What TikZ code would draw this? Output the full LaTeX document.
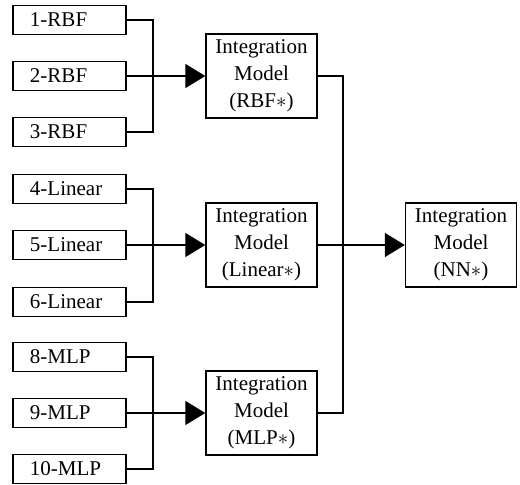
\documentclass[tikz,border=0pt]{standalone}
\usepackage{fontspec}
\setmainfont{Liberation Serif}
\usetikzlibrary{arrows.meta}
\tikzset{
  member/.style={draw, line width=1.4pt, minimum width=113pt, minimum height=29pt,
    text width=79pt, inner xsep=17pt, align=left, inner ysep=0pt},
  combiner/.style={draw, line width=1.4pt, minimum width=111pt, minimum height=84pt,
    align=center, inner sep=0pt},
  wire/.style={line width=1.6pt},
  feed/.style={line width=1.6pt, -{Triangle[length=20pt,width=24pt]}}
}
\begin{document}
\begin{tikzpicture}[x=1pt,y=-1pt,font=\fontsize{21}{27}\selectfont]
			\useasboundingbox (0,0) rectangle (520,485);
			%first level models
			\node[member] (r1) at (69.5,20) {1-RBF};
			\node[member] (r2) at (69.5,76) {2-RBF};
			\node[member] (r3) at (69.5,132) {3-RBF};
			\node[member] (l4) at (69.5,189) {4-Linear};
			\node[member] (l5) at (69.5,245) {5-Linear};
			\node[member] (l6) at (69.5,302) {6-Linear};
			\node[member] (m8) at (69.5,357) {8-MLP};
			\node[member] (m9) at (69.5,413) {9-MLP};
			\node[member] (m10) at (69.5,469) {10-MLP};
			
			%integration models
			\node[combiner] (irbf) at (261.5,76) {Integration\\Model\\(RBF$\ast$)};
			\node[combiner] (ilin) at (261.5,245) {Integration\\Model\\(Linear$\ast$)};
			\node[combiner] (imlp) at (261.5,413) {Integration\\Model\\(MLP$\ast$)};
			\node[combiner] (inn) at (461,245) {Integration\\Model\\(NN$\ast$)};
			
			%buses
			\coordinate (b1) at (153,76);
			\coordinate (b2) at (153,245);
			\coordinate (b3) at (153,413);
			\coordinate (b4) at (343,245);
			\draw[wire] (r1.east) -| (b1) |- (r3.east);
			\draw[wire] (l4.east) -| (b2) |- (l6.east);
			\draw[wire] (m8.east) -| (b3) |- (m10.east);
			\draw[wire] (irbf.east) -| (b4) |- (imlp.east);
			
			\draw[feed] (r2.east) -- (irbf.west);
			\draw[feed] (l5.east) -- (ilin.west);
			\draw[feed] (m9.east) -- (imlp.west);
			\draw[feed] (ilin.east) -- (inn.west);
\end{tikzpicture}
\end{document}
